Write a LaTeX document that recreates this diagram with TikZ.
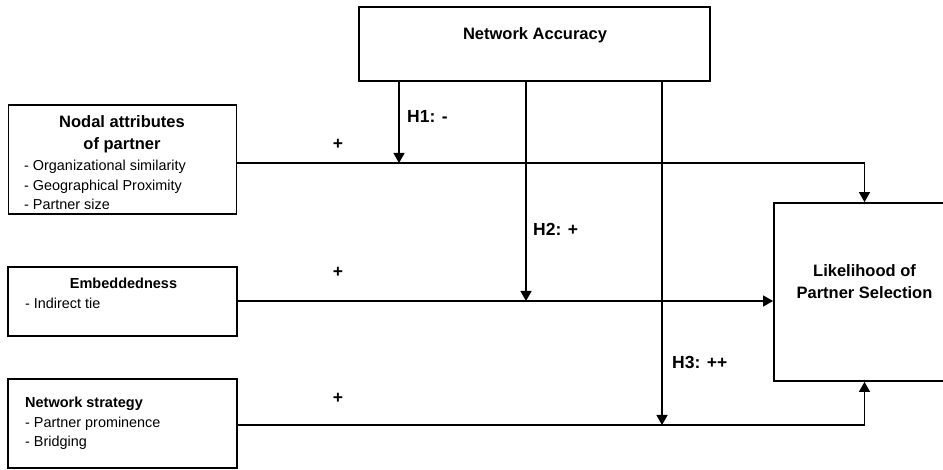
\documentclass[tikz,border=0pt]{standalone}
\usepackage{fontspec}
\setmainfont{Liberation Sans}
\usetikzlibrary{arrows.meta}
\begin{document}
\begin{tikzpicture}[x=1pt,y=-1pt,
  boxnode/.style={draw, line width=1.8pt, rectangle, inner sep=0pt},
  conn/.style={line width=1.3pt},
  arr/.style={conn, -{Triangle[width=11pt,length=10pt]}},
  bigbold/.style={font=\fontsize{16.5}{22}\selectfont\bfseries, inner sep=0pt, align=center},
  midbold/.style={font=\fontsize{14.5}{19.5}\selectfont\bfseries, inner sep=0pt},
  plain/.style={font=\fontsize{14.4}{19.3}\selectfont, inner sep=0pt, align=left},
  hlab/.style={font=\fontsize{17.5}{21}\selectfont\bfseries, inner sep=0pt}
]
\useasboundingbox (0,0) rectangle (943,470);
% boxes
\node[boxnode, minimum width=228pt, minimum height=109pt] (nodal) at (122.5,159.5) {};
\node[boxnode, minimum width=229pt, minimum height=69pt] (emb) at (122.5,301.5) {};
\node[boxnode, minimum width=229pt, minimum height=89pt] (strat) at (122.5,423.5) {};
\node[boxnode, minimum width=351pt, minimum height=74pt] (acc) at (534.5,44) {};
\node[boxnode, minimum width=181pt, minimum height=178pt] (lik) at (864.5,292) {};
% texts
\node[bigbold] (nodaltitle) at (122,134) {Nodal attributes\\of partner};
\node[plain, anchor=west] (nodalitems) at (24,185) {- Organizational similarity\\- Geographical Proximity\\- Partner size};
\node[midbold] (embtitle) at (123.5,283) {Embeddedness};
\node[plain, anchor=west] (embitems) at (25,303) {- Indirect tie};
\node[midbold, anchor=west] (strattitle) at (25,404) {Network strategy};
\node[plain, anchor=west] (stratitems) at (25,433) {- Partner prominence\\- Bridging};
\node[bigbold] (acctext) at (535,35) {Network Accuracy};
\node[bigbold] (liktext) at (864.5,282) {Likelihood of\\Partner Selection};
% junctions
\coordinate (j1) at (399,163);
\coordinate (j2) at (526,301);
\coordinate (j3) at (662,425);
% main paths
\draw[arr] (nodal.east |- j1) -| (lik.north);
\draw[arr] (emb.east |- j2) -- (lik.west |- j2);
\draw[arr] (strat.east |- j3) -| (lik.south);
% moderating arrows
\draw[arr] (acc.south -| j1) -- (j1);
\draw[arr] (acc.south -| j2) -- (j2);
\draw[arr] (acc.south -| j3) -- (j3);
% labels
\node[hlab, anchor=west] (h1) at (407,116) {H1: -};
\node[hlab, anchor=west] (h2) at (533,229) {H2: +};
\node[hlab, anchor=west] (h3) at (672,362) {H3: ++};
\node[hlab] (p1) at (338,144) {+};
\node[hlab] (p2) at (338,272) {+};
\node[hlab] (p3) at (338,398) {+};
\end{tikzpicture}
\end{document}
